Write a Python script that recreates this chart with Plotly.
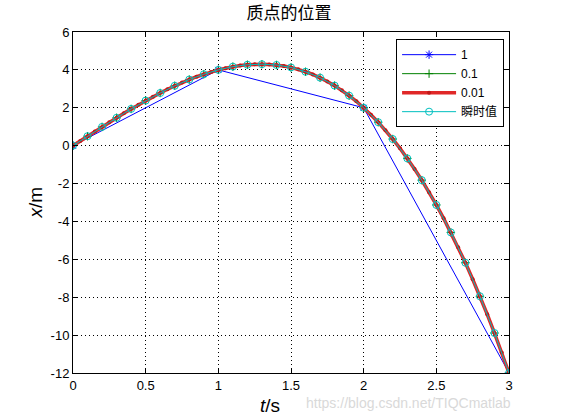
import plotly.graph_objects as go

# time axes
t_1 = [0, 1, 2, 3]
t_01 = [0.0, 0.1, 0.2, 0.3, 0.4, 0.5, 0.6, 0.7, 0.8, 0.9, 1.0,
        1.1, 1.2, 1.3, 1.4, 1.5, 1.6, 1.7, 1.8, 1.9, 2.0,
        2.1, 2.2, 2.3, 2.4, 2.5, 2.6, 2.7, 2.8, 2.9, 3.0]
t_001 = [0.00, 0.05, 0.10, 0.15, 0.20, 0.25, 0.30, 0.35, 0.40, 0.45, 0.50,
         0.55, 0.60, 0.65, 0.70, 0.75, 0.80, 0.85, 0.90, 0.95, 1.00,
         1.05, 1.10, 1.15, 1.20, 1.25, 1.30, 1.35, 1.40, 1.45, 1.50,
         1.55, 1.60, 1.65, 1.70, 1.75, 1.80, 1.85, 1.90, 1.95, 2.00,
         2.05, 2.10, 2.15, 2.20, 2.25, 2.30, 2.35, 2.40, 2.45, 2.50,
         2.55, 2.60, 2.65, 2.70, 2.75, 2.80, 2.85, 2.90, 2.95, 3.00]

# positions
x_1 = [0, 4, 2, -12]
x_01 = [0.00, 0.50, 0.99, 1.47, 1.94, 2.38, 2.78, 3.16, 3.49, 3.77, 4.00,
        4.17, 4.27, 4.30, 4.26, 4.13, 3.90, 3.59, 3.17, 2.64, 2.00,
        1.24, 0.35, -0.67, -1.82, -3.13, -4.58, -6.18, -7.95, -9.89, -12.00]
x_001 = [0.00, 0.25, 0.50, 0.75, 0.99, 1.23, 1.47, 1.71, 1.94, 2.16, 2.38,
         2.58, 2.78, 2.98, 3.16, 3.33, 3.49, 3.64, 3.77, 3.89, 4.00,
         4.09, 4.17, 4.23, 4.27, 4.30, 4.30, 4.29, 4.26, 4.20, 4.13,
         4.03, 3.90, 3.76, 3.59, 3.39, 3.17, 2.92, 2.64, 2.34, 2.00,
         1.63, 1.24, 0.81, 0.35, -0.14, -0.67, -1.23, -1.82, -2.46, -3.13,
         -3.83, -4.58, -5.36, -6.18, -7.05, -7.95, -8.90, -9.89, -10.92, -12.00]
x_inst = [0.00, 0.50, 0.99, 1.47, 1.94, 2.38, 2.78, 3.16, 3.49, 3.77, 4.00,
          4.17, 4.27, 4.30, 4.26, 4.13, 3.90, 3.59, 3.17, 2.64, 2.00,
          1.24, 0.35, -0.67, -1.82, -3.13, -4.58, -6.18, -7.95, -9.89, -12.00]

names = ["1", "0.1", "0.01", "瞬时值"]
x_ticks = [0, 0.5, 1, 1.5, 2, 2.5, 3]
x_tick_text = ["0", "0.5", "1", "1.5", "2", "2.5", "3"]
y_ticks = [-12, -10, -8, -6, -4, -2, 0, 2, 4, 6]
y_tick_text = ["-12", "-10", "-8", "-6", "-4", "-2", "0", "2", "4", "6"]

fig = go.Figure()
fig.add_trace(go.Scatter(x=t_1, y=x_1, name=names[0], mode="lines+markers",
                         line=dict(color="#0000ff", width=1),
                         marker=dict(symbol="asterisk-open", size=7, color="#0000ff",
                                     line=dict(color="#0000ff", width=1))))
fig.add_trace(go.Scatter(x=t_01, y=x_01, name=names[1], mode="lines+markers",
                         line=dict(color="#008000", width=1),
                         marker=dict(symbol="cross-thin-open", size=6, color="#008000",
                                     line=dict(color="#008000", width=1))))
fig.add_trace(go.Scatter(x=t_001, y=x_001, name=names[2], mode="lines+markers",
                         line=dict(color="#e02828", width=3.5),
                         marker=dict(symbol="circle", size=4, color="#c01818")))
fig.add_trace(go.Scatter(x=t_01, y=x_inst, name=names[3], mode="lines+markers",
                         line=dict(color="#00bfbf", width=1),
                         marker=dict(symbol="circle-open", size=7, color="#00bfbf",
                                     line=dict(color="#00bfbf", width=1))))

axis_common = dict(showline=True, linecolor="black", linewidth=1, mirror="ticks",
                   ticks="inside", ticklen=5, tickcolor="black",
                   showgrid=True, gridcolor="black", gridwidth=1, griddash="1px,3px",
                   zeroline=False,
                   tickfont=dict(family="Liberation Sans, Arial", size=13, color="black"))

fig.update_xaxes(range=[0, 3], tickvals=x_ticks, ticktext=x_tick_text, **axis_common)
fig.update_yaxes(range=[-12, 6], tickvals=y_ticks, ticktext=y_tick_text, **axis_common)

fig.update_layout(
    width=561, height=420,
    margin=dict(l=73, r=52, t=32, b=47),
    paper_bgcolor="white", plot_bgcolor="white",
    title=dict(text="质点的位置", x=0.515, xanchor="center", y=0.969, yanchor="middle",
               font=dict(family="Noto Sans CJK SC", size=17, color="black")),
    showlegend=True,
    legend=dict(x=0.741, y=0.979, xanchor="left", yanchor="top",
                bgcolor="white", bordercolor="black", borderwidth=1,
                font=dict(family="Liberation Sans, Noto Sans CJK SC", size=12, color="black"),
                itemwidth=54, tracegroupgap=0),
    annotations=[
        dict(text="<i>t</i>/s", xref="paper", yref="paper", x=0.452, y=-0.094,
             xanchor="center", yanchor="middle", showarrow=False,
             font=dict(family="Liberation Sans, Arial", size=19, color="black")),
        dict(text="<i>x</i>/m", xref="paper", yref="paper", x=-0.087, y=0.5,
             xanchor="center", yanchor="middle", showarrow=False, textangle=-90,
             font=dict(family="Liberation Sans, Arial", size=19, color="black")),
        dict(text="https://blog.csdn.net/TIQCmatlab", xref="paper", yref="paper",
             x=1.009, y=-0.088, xanchor="right", yanchor="middle", showarrow=False,
             font=dict(family="Liberation Sans, Arial", size=14, color="#d9d9d9")),
    ],
)

fig.write_html("out.html", config={"displayModeBar": False},
               post_script="document.body.style.margin='0';")
